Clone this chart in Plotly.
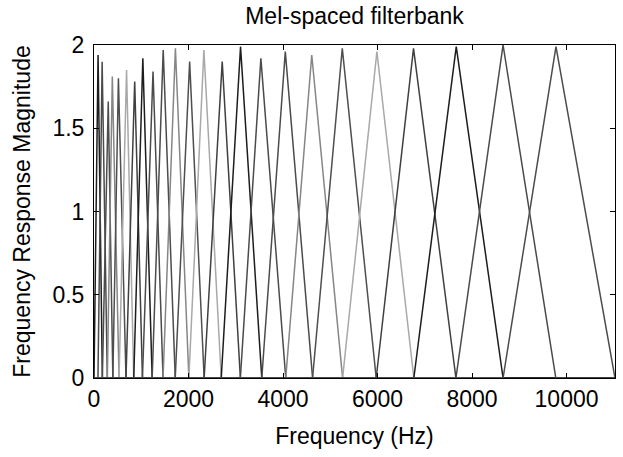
import plotly.graph_objects as go

# Mel band centre frequencies (Hz): triangle feet of neighbouring filters
band_edges_hz = [0.0, 83.5, 177.0, 281.7, 398.9, 530.0, 676.8, 841.1, 1025.0,
                 1230.8, 1461.2, 1719.2, 2007.8, 2331.0, 2692.6, 3097.4, 3550.5,
                 4057.6, 4625.3, 5260.6, 5971.8, 6768.0, 7658.9, 8656.2, 9772.6,
                 11025.0]
# Frequency (Hz) of each filter's highest sample and its magnitude
peak_hz = [86.1, 172.3, 301.5, 387.6, 516.8, 689.1, 861.3, 1033.6, 1248.9,
           1464.3, 1722.7, 2024.1, 2325.6, 2713.2, 3100.8, 3531.4, 4048.2,
           4608.1, 5254.1, 5986.2, 6761.4, 7665.8, 8656.3, 9776.1]
peak_mag = [1.94, 1.90, 1.66, 1.81, 1.80, 1.85, 1.78, 1.92, 1.84, 1.97, 1.98,
            1.90, 1.97, 1.90, 1.99, 1.92, 1.96, 1.94, 1.98, 1.96, 1.98, 1.99,
            2.00, 1.99]
x_max_hz = 11025.0

x_ticks = [0, 2000, 4000, 6000, 8000, 10000]
x_tick_labels = ["0", "2000", "4000", "6000", "8000", "10000"]
y_ticks = [0, 0.5, 1, 1.5, 2]
y_tick_labels = ["0", "0.5", "1", "1.5", "2"]

# grey rendering of the classic MATLAB colour order
line_greys = ["#1d1d1d", "#4b4b4b", "#4c4c4c", "#868686", "#4f4f4f",
              "#a9a9a9", "#404040"]

fig = go.Figure()
for i in range(len(peak_hz)):
    left = band_edges_hz[i]
    right = band_edges_hz[i + 2]
    fig.add_trace(go.Scatter(
        x=[0.0, left, peak_hz[i], right, x_max_hz],
        y=[0, 0, peak_mag[i], 0, 0],
        mode="lines",
        line=dict(color=line_greys[i % len(line_greys)], width=1.5),
        showlegend=False,
        hoverinfo="skip",
    ))

font_family = "Liberation Sans, Arial, sans-serif"
axis_common = dict(
    showgrid=False, zeroline=False,
    showline=True, linecolor="black", linewidth=1, mirror="allticks",
    ticks="inside", ticklen=5, tickwidth=1, tickcolor="black",
    tickfont=dict(family=font_family, size=23, color="black"),
)

fig.update_layout(
    width=623, height=457,
    margin=dict(l=94, r=8, t=45, b=79),
    paper_bgcolor="white", plot_bgcolor="white",
    font=dict(family=font_family, color="black"),
    title=dict(text="Mel-spaced filterbank", x=(94 + 615) / 2 / 623, xanchor="center",
               xref="container", yref="container", y=1 - 16 / 457, yanchor="middle",
               font=dict(family=font_family, size=23, color="black")),
    xaxis=dict(range=[0, x_max_hz], tickvals=x_ticks, ticktext=x_tick_labels,
               title=dict(text="Frequency (Hz)", font=dict(size=23), standoff=17),
               **axis_common),
    yaxis=dict(range=[0, 2], tickvals=y_ticks, ticktext=y_tick_labels,
               ticklabelstandoff=4,
               title=dict(text="Frequency Response Magnitude", font=dict(size=23), standoff=15),
               **axis_common),
)

fig.write_html("out.html", config={"displayModeBar": False},
               post_script="document.body.style.margin='0';document.body.style.padding='0';")
